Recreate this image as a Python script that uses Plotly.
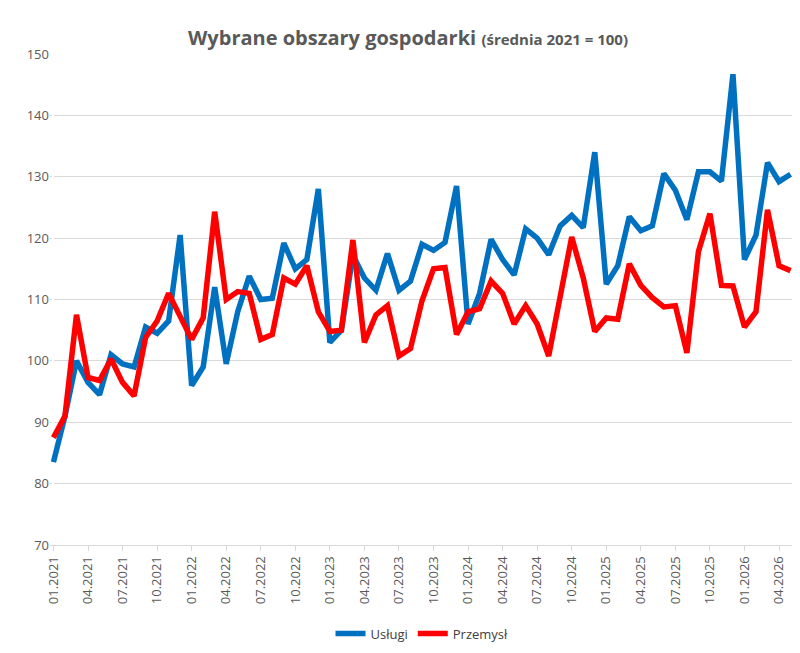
import plotly.graph_objects as go

# miesiące 01.2021 - 05.2026
months = ["%02d.%d" % (m, y) for y in range(2021, 2027) for m in range(1, 13)][:65]

uslugi = [83.5, 91, 100, 96.5, 94.5, 101, 99.5, 99, 105.5, 104.5, 106.5, 120.5,
          96, 99, 112, 99.5, 108, 113.8, 110, 110.2, 119.2, 115, 116.5, 128,
          103, 105, 117.2, 113.5, 111.5, 117.5, 111.5, 113, 119, 118, 119.3, 128.5,
          106, 111, 119.8, 116.5, 114, 121.5, 120, 117.3, 122, 123.7, 121.7, 134,
          112.5, 115.5, 123.5, 121.2, 122, 130.5, 127.8, 123, 130.8, 130.8, 129.3, 146.7,
          116.5, 120.5, 132.3, 129.2, 130.4]
przemysl = [87.5, 91, 107.5, 97.3, 96.8, 100.3, 96.5, 94.3, 103.8, 106.5, 111, 107,
            103.5, 107, 124.3, 110, 111.3, 111, 103.5, 104.3, 113.5, 112.5, 115.5, 108,
            104.8, 105, 119.7, 103, 107.5, 109, 100.8, 102, 109.8, 115, 115.2, 104.3,
            108, 108.5, 113, 111, 106, 109, 106, 100.8, 110, 120.2, 113.5, 104.8,
            107, 106.8, 115.8, 112.3, 110.3, 108.8, 109, 101.3, 117.8, 124, 112.3, 112.2,
            105.5, 108, 124.6, 115.5, 114.7]

tick_idx = list(range(0, 65, 3))
tick_text = [months[i] for i in tick_idx]
x = list(range(len(months)))

fig = go.Figure()
fig.add_trace(go.Scatter(x=x, y=uslugi, name="Usługi", mode="lines",
                         line=dict(color="#0070C0", width=5.5)))
fig.add_trace(go.Scatter(x=x, y=przemysl, name="Przemysł", mode="lines",
                         line=dict(color="#FF0000", width=5.5)))

fig.update_layout(
    width=800, height=653,
    paper_bgcolor="white", plot_bgcolor="white",
    font=dict(family="Open Sans", color="#595959", size=13),
    title=dict(text="<b>Wybrane obszary gospodarki</b> <b><span style='font-size:15px'>(średnia 2021 = 100)</span></b>",
               x=0.5, xanchor="center", y=0.965, font=dict(size=20, color="#595959")),
    margin=dict(l=42, r=14, t=46, b=101),
    legend=dict(orientation="h", x=0.5, xanchor="center", y=-0.15, yanchor="top",
                font=dict(size=13, color="#404040")),
)
fig.update_xaxes(tickvals=tick_idx, ticktext=tick_text, tickangle=-90,
                 range=[-0.3, 64.3], showgrid=False, showline=True, linecolor="#D9D9D9",
                 ticks="outside", tickcolor="#D9D9D9", ticklen=5)
fig.update_yaxes(range=[70, 150], dtick=10, showgrid=True, gridcolor="#D9D9D9",
                 zeroline=False, tickfont=dict(size=13))

fig.write_html("out.html")
